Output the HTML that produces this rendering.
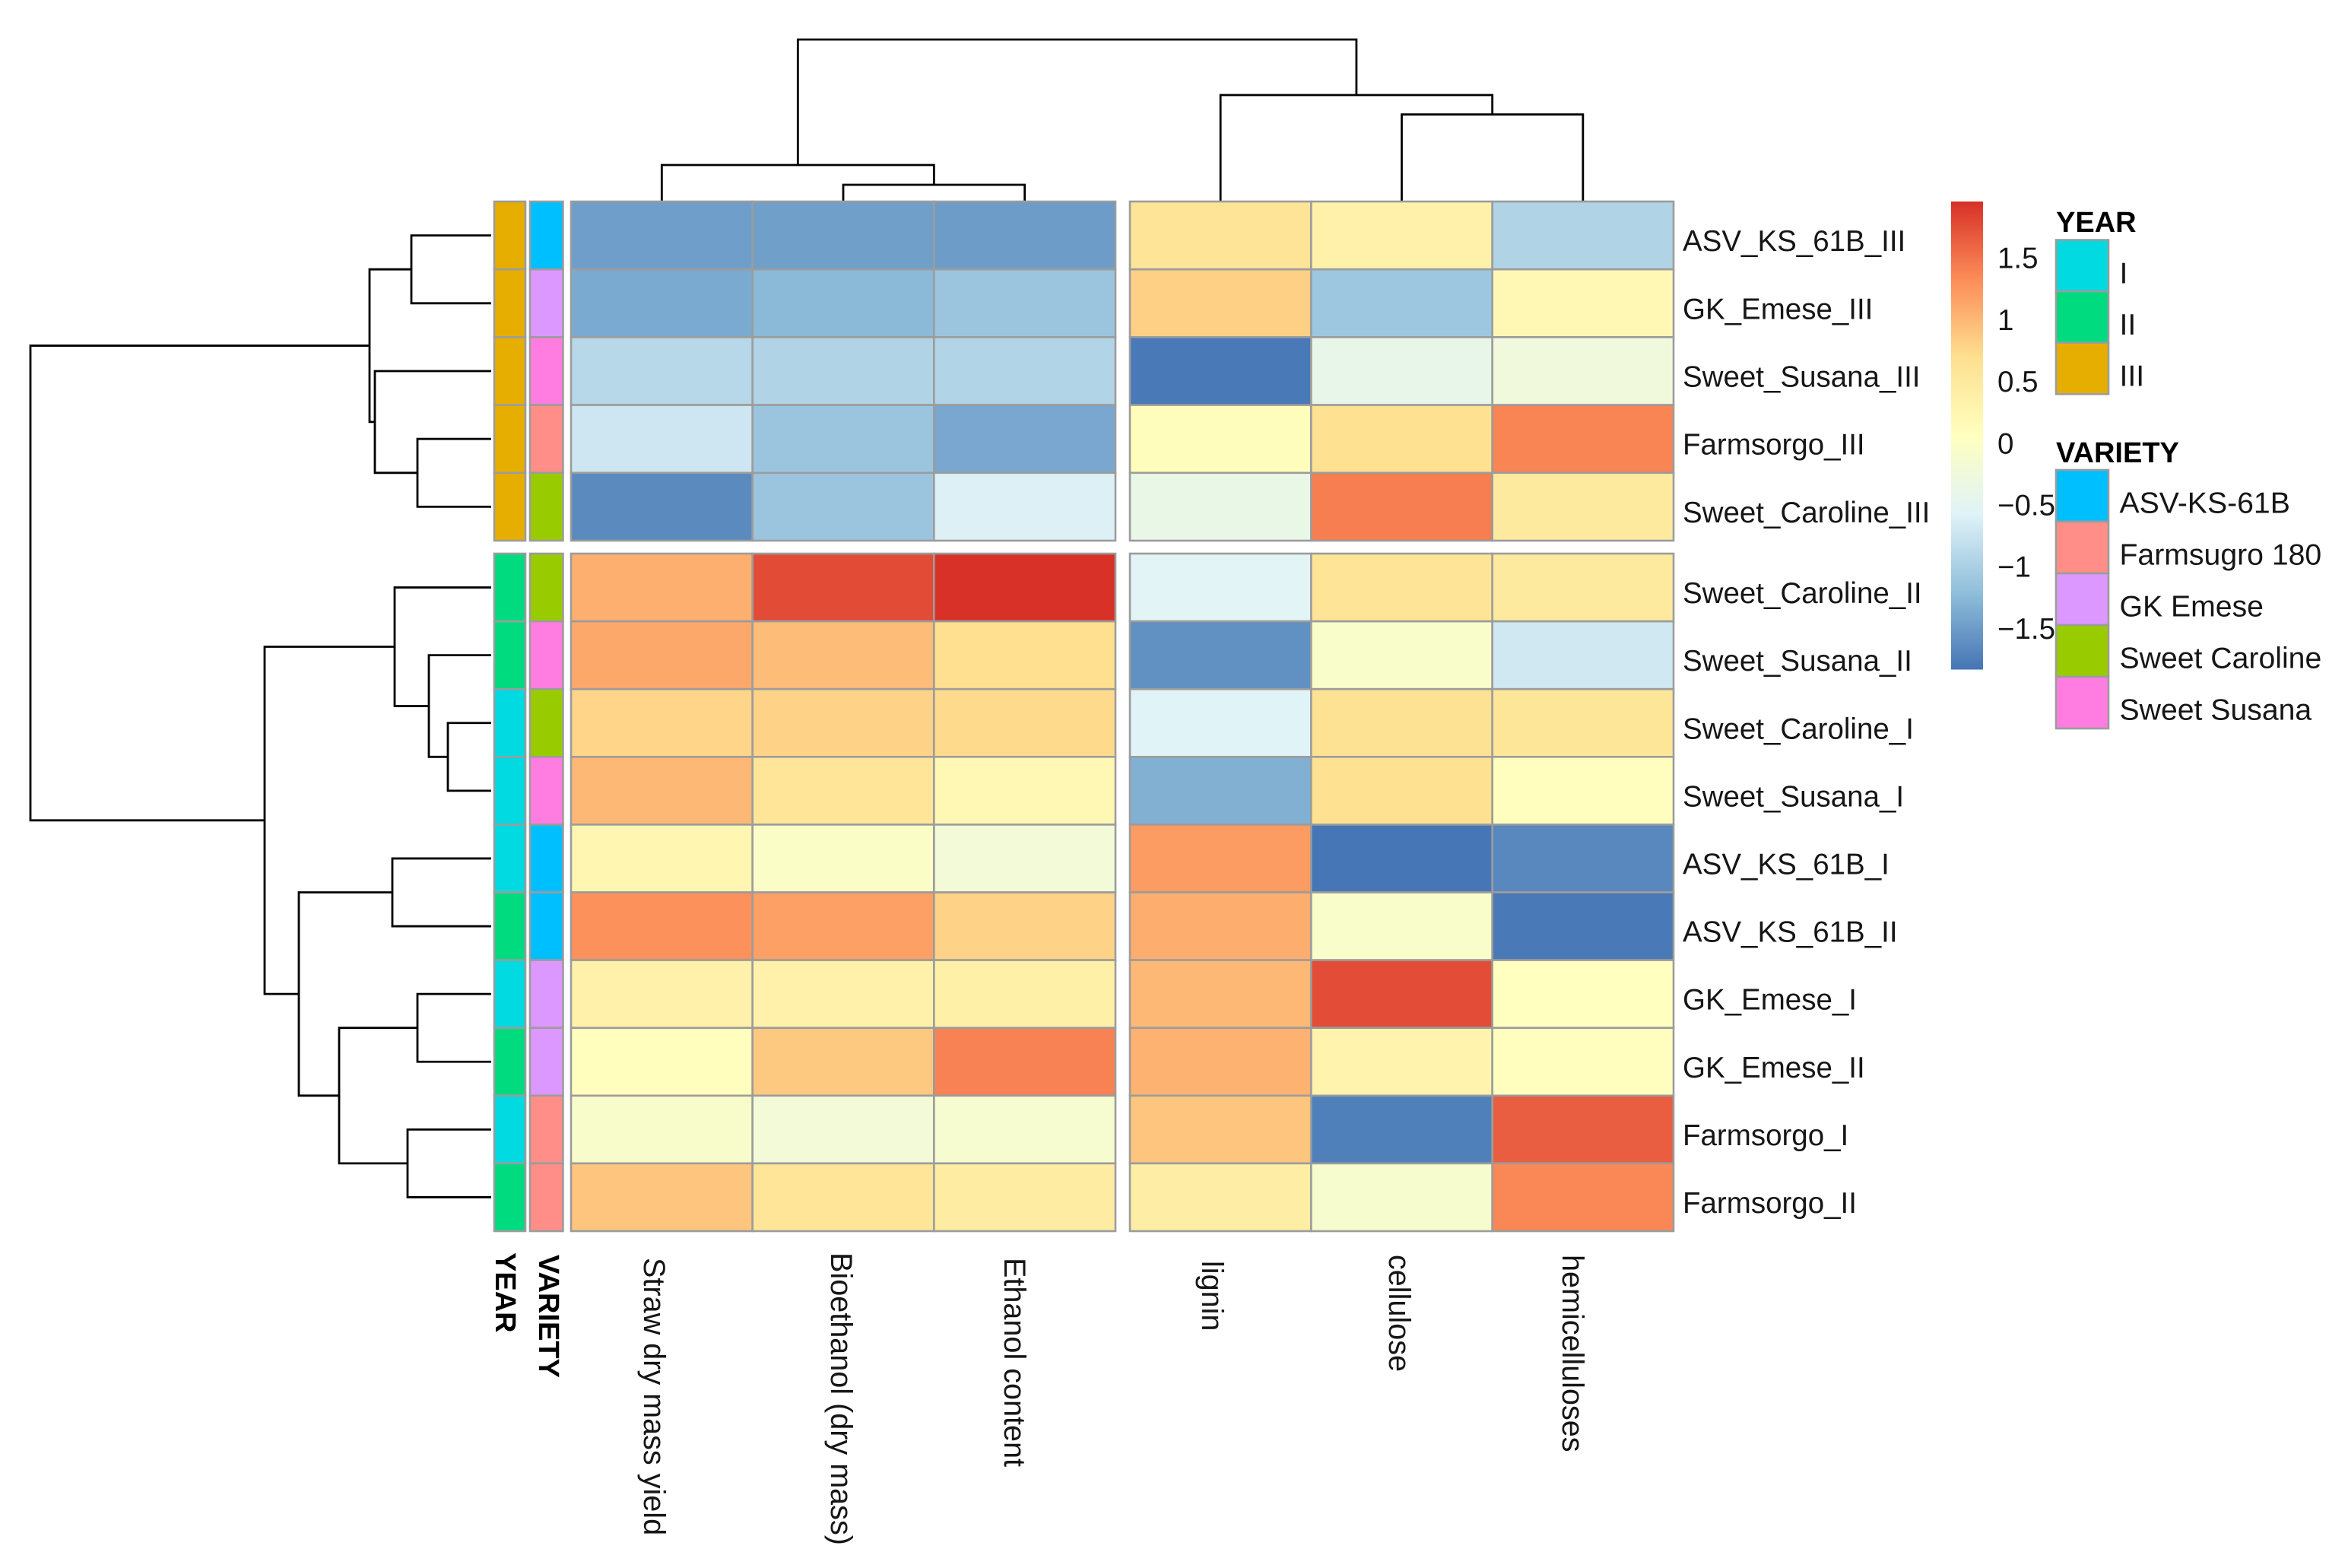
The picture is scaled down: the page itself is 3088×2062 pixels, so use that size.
<!DOCTYPE html>
<html lang="en">
<head>
<meta charset="utf-8">
<title>Clustered heatmap of sorghum varieties</title>
<style>
html,body{margin:0;padding:0;background:#fff;}
svg{display:block;}
text{font-family:"Liberation Sans",Arial,sans-serif;fill:#161616;}
.lab{font-size:38.5px;}
.collab{font-size:39.6px;}
.leglab{font-size:39.2px;}
.bold{font-size:38px;font-weight:bold;fill:#000;}
</style>
</head>
<body>
<svg id="chart" xmlns="http://www.w3.org/2000/svg" width="3088" height="2062" viewBox="0 0 3088 2062">
  <rect width="3088" height="2062" fill="#ffffff"/>
  <g id="row-dendro"></g>
  <g id="col-dendro"></g>
  <g id="annot"></g>
  <g id="heat"></g>
  <g id="row-labels"></g>
  <g>
    <text class="bold" transform="translate(652,1647) rotate(90)">YEAR</text>
    <text class="bold" transform="translate(709,1650) rotate(90)">VARIETY</text>
    <text class="collab" transform="translate(847,1654) rotate(90)">Straw dry mass yield</text>
    <text class="collab" transform="translate(1093,1647) rotate(90)">Bioethanol (dry mass)</text>
    <text class="collab" transform="translate(1321,1654) rotate(90)">Ethanol content</text>
    <text class="collab" transform="translate(1581,1658) rotate(90)">lignin</text>
    <text class="collab" transform="translate(1827,1650) rotate(90)">cellulose</text>
    <text class="collab" transform="translate(2055,1650) rotate(90)">hemicelluloses</text>
  </g>
  <g id="colorbar"></g>
  <g id="legend-year">
    <text class="bold" x="2704" y="305">YEAR</text>
  </g>
  <g id="legend-variety">
    <text class="bold" x="2704" y="608">VARIETY</text>
  </g>
</svg>
<script>
// ---------- data ----------
const rowLabels = ["ASV_KS_61B_III","GK_Emese_III","Sweet_Susana_III","Farmsorgo_III","Sweet_Caroline_III",
  "Sweet_Caroline_II","Sweet_Susana_II","Sweet_Caroline_I","Sweet_Susana_I","ASV_KS_61B_I",
  "ASV_KS_61B_II","GK_Emese_I","GK_Emese_II","Farmsorgo_I","Farmsorgo_II"];
const rowYear = ["III","III","III","III","III","II","II","I","I","I","II","I","II","I","II"];
const rowVariety = ["ASV-KS-61B","GK Emese","Sweet Susana","Farmsugro 180","Sweet Caroline",
  "Sweet Caroline","Sweet Susana","Sweet Caroline","Sweet Susana","ASV-KS-61B",
  "ASV-KS-61B","GK Emese","GK Emese","Farmsugro 180","Farmsugro 180"];

const strawYield    = [-1.48,-1.38,-0.90,-0.72,-1.65,1.07,1.12,0.78,1.00,0.25,1.30,0.35,0.09,-0.07,0.90];
const bioethanol    = [-1.47,-1.25,-0.95,-1.12,-1.12,1.77,0.97,0.80,0.60,-0.02,1.18,0.35,0.87,-0.20,0.60];
const ethanolContent= [-1.50,-1.12,-0.94,-1.40,-0.60,1.95,0.70,0.74,0.20,-0.20,0.80,0.38,1.40,-0.12,0.45];
const lignin        = [0.62,0.82,-1.80,0.10,-0.38,-0.53,-1.60,-0.56,-1.33,1.22,1.08,1.00,1.05,0.90,0.42];
const cellulose     = [0.35,-1.10,-0.41,0.68,1.43,0.62,-0.06,0.66,0.68,-1.82,-0.06,1.76,0.30,-1.74,-0.10];
const hemicellulose = [-0.95,0.20,-0.25,1.38,0.50,0.50,-0.70,0.58,0.08,-1.67,-1.80,0.07,0.08,1.65,1.36];
const columnSeries = [strawYield,bioethanol,ethanolContent,lignin,cellulose,hemicellulose];
const columnNames = ["straw","bioethanol","ethanol","lignin","cellulose","hemicelluloses"];

// dendrogram merges (hclust style: negative = leaf index + 1 in display order, positive = merge number)
const rowMerge = [[-1,-2],[-4,-5],[-3,2],[1,3],[-8,-9],[-7,5],[-6,6],[-10,-11],[-12,-13],[-14,-15],[9,10],[8,11],[7,12],[4,13]];
const rowHeights = [1.05,0.97,1.53,1.60,0.57,0.82,1.27,1.30,0.97,1.10,2.00,2.53,2.98,6.06];
const colMerge = [[-2,-3],[-1,1],[-5,-6],[-4,3],[2,4]];
const colHeights = [0.22,0.48,1.145,1.40,2.13];

const colorDomain = [-1.83,1.96];
const colorbarTicks = [1.5,1,0.5,0,-0.5,-1,-1.5];
const palette = ["#4575B4","#91BFDB","#E0F3F8","#FFFFBF","#FEE090","#FC8D59","#D73027"];

const yearLevels = ["I","II","III"];
const yearColors = ["#00DAE0","#00DB80","#E6AE00"];
const varietyLevels = ["ASV-KS-61B","Farmsugro 180","GK Emese","Sweet Caroline","Sweet Susana"];
const varietyColors = ["#00BFFF","#FF8E88","#DC98FF","#99CC00","#FF7CE0"];

// ---------- layout & scales ----------
const NS = "http://www.w3.org/2000/svg";
const gridColor = "#9c9c9c";
const rowGroups = [{from:0,count:5,top:265,bottom:711},{from:5,count:10,top:728,bottom:1619}];
const colGroups = [{from:0,count:3,left:751,right:1467},{from:3,count:3,left:1486,right:2201}];
const yearTrack = {left:650,right:691};
const varietyTrack = {left:697,right:740.5};
const rowLeafX = 646, colLeafY = 265, rowUnit = 100, colUnit = 100;
const bar = {left:2566,right:2608,top:265,bottom:880.5};

function rowBand(i){
  const g = i < rowGroups[0].count ? rowGroups[0] : rowGroups[1];
  const h = (g.bottom-g.top)/g.count;
  return {y:g.top+(i-g.from)*h,h:h};
}
function colBand(j){
  const g = j < colGroups[0].count ? colGroups[0] : colGroups[1];
  const w = (g.right-g.left)/g.count;
  return {x:g.left+(j-g.from)*w,w:w};
}
function rowCenter(i){const b=rowBand(i);return b.y+b.h/2;}
function colCenter(j){const b=colBand(j);return b.x+b.w/2;}
function hexToRgb(h){return [1,3,5].map(k=>parseInt(h.substr(k,2),16));}
function colorScale(v){
  const t = Math.max(0,Math.min(1,(v-colorDomain[0])/(colorDomain[1]-colorDomain[0])))*(palette.length-1);
  const k = Math.min(palette.length-2,Math.floor(t)), f = t-k;
  const a = hexToRgb(palette[k]), b = hexToRgb(palette[k+1]);
  return "rgb("+a.map((c,n)=>Math.round(c+(b[n]-c)*f)).join(",")+")";
}
function barY(v){
  return bar.top+(colorDomain[1]-v)/(colorDomain[1]-colorDomain[0])*(bar.bottom-bar.top);
}
function svgEl(tag,attrs,parent){
  const el = document.createElementNS(NS,tag);
  for(const k in attrs) el.setAttribute(k,attrs[k]);
  parent.appendChild(el);
  return el;
}
function slug(s){return s.toLowerCase().replace(/[^a-z0-9]+/g,"-");}

// ---------- heatmap ----------
const heat = document.getElementById("heat");
columnSeries.forEach(function(series,j){
  series.forEach(function(v,i){
    const r = rowBand(i), c = colBand(j);
    const cell = svgEl("rect",{x:c.x,y:r.y,width:c.w,height:r.h,fill:colorScale(v),stroke:gridColor,"stroke-width":2.6},heat);
    
    
  });
});

// ---------- annotation tracks ----------
const annot = document.getElementById("annot");
rowLabels.forEach(function(name,i){
  const r = rowBand(i);
  const y = svgEl("rect",{x:yearTrack.left,y:r.y,width:yearTrack.right-yearTrack.left,height:r.h,
    fill:yearColors[yearLevels.indexOf(rowYear[i])],stroke:gridColor,"stroke-width":2.6},annot);
  
  
  const v = svgEl("rect",{x:varietyTrack.left,y:r.y,width:varietyTrack.right-varietyTrack.left,height:r.h,
    fill:varietyColors[varietyLevels.indexOf(rowVariety[i])],stroke:gridColor,"stroke-width":2.6},annot);
  
  
});

// ---------- row labels ----------
const rowLabelGroup = document.getElementById("row-labels");
rowLabels.forEach(function(name,i){
  const t = svgEl("text",{x:2213,y:rowCenter(i)+20.5,"class":"lab"},rowLabelGroup);
  
  
  t.textContent = name;
});

// ---------- dendrograms ----------
function layoutTree(merge,heights,leafPos){
  const nodes = [];
  merge.forEach(function(m,k){
    const kids = m.map(function(id){
      return id<0 ? {pos:leafPos(-id-1),h:0} : nodes[id-1];
    });
    nodes.push({pos:(kids[0].pos+kids[1].pos)/2,h:heights[k],kids:kids});
  });
  return nodes;
}
function rowDist(h){return rowLeafX-h*rowUnit;}
function colDist(h){return colLeafY-h*colUnit;}

const rowDendro = document.getElementById("row-dendro");
layoutTree(rowMerge,rowHeights,rowCenter).forEach(function(n,k){
  const a=n.kids[0], b=n.kids[1], x=rowDist(n.h);
  const d="M"+rowDist(a.h)+" "+a.pos+"H"+x+"V"+b.pos+"H"+rowDist(b.h);
  const p = svgEl("path",{d:d,fill:"none",stroke:"#000","stroke-width":2.8},rowDendro);
  
  
});
const colDendro = document.getElementById("col-dendro");
layoutTree(colMerge,colHeights,colCenter).forEach(function(n,k){
  const a=n.kids[0], b=n.kids[1], y=colDist(n.h);
  const d="M"+a.pos+" "+colDist(a.h)+"V"+y+"H"+b.pos+"V"+colDist(b.h);
  const p = svgEl("path",{d:d,fill:"none",stroke:"#000","stroke-width":2.8},colDendro);
  
  
});

// ---------- colour bar ----------
const cb = document.getElementById("colorbar");
const defs = svgEl("defs",{},cb);
const grad = svgEl("linearGradient",{id:"cbGrad",x1:0,y1:1,x2:0,y2:0},defs);
palette.forEach(function(c,k){
  svgEl("stop",{offset:k/(palette.length-1),"stop-color":c},grad);
});
const barRect = svgEl("rect",{x:bar.left,y:bar.top,width:bar.right-bar.left,height:bar.bottom-bar.top,fill:"url(#cbGrad)"},cb);


colorbarTicks.forEach(function(v){
  const t = svgEl("text",{x:2627,y:barY(v)+13,"class":"lab"},cb);
  
  
  t.textContent = String(v).replace("-","\u2212");
});

// ---------- discrete legends ----------
function drawLegend(parent,levels,colors,top,step,baseOffset,prefix){
  levels.forEach(function(name,k){
    const y = top+k*step;
    const s = svgEl("rect",{x:2704,y:y,width:69,height:step,fill:colors[k],stroke:gridColor,"stroke-width":2.6},parent);
    
    
    const t = svgEl("text",{x:2787.5,y:y+baseOffset,"class":"leglab"},parent);
    
    
    t.textContent = name;
  });
}
drawLegend(document.getElementById("legend-year"),yearLevels,yearColors,315.5,67.6,57,"year-legend");
drawLegend(document.getElementById("legend-variety"),varietyLevels,varietyColors,618,68,56.5,"variety-legend");
</script>
</body>
</html>
